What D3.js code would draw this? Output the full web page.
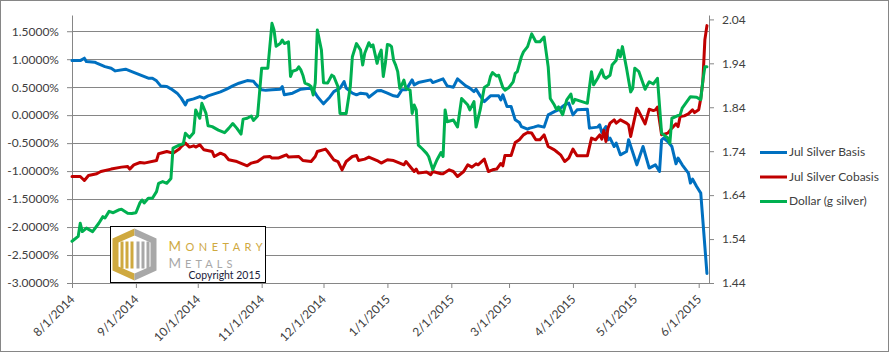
<!DOCTYPE html>
<html>
<head>
<meta charset="utf-8">
<script src="https://cdn.jsdelivr.net/npm/d3@7"></script>
<style>
  html, body { margin:0; padding:0; background:#fff; }
  svg { display:block; }
  text { font-family: Lato, "Open Sans", sans-serif; }
</style>
</head>
<body>
<svg id="chart" width="894" height="353"></svg>
<script>
/* ——— data ———————————————————— */
// basis & cobasis in %, left axis
const basis = [
  ["8/1/14",0.975],["8/5/14",0.975],["8/7/14",1.018],["8/8/14",0.957],["8/12/14",0.946],
  ["8/13/14",0.929],["8/17/14",0.868],["8/20/14",0.839],["8/22/14",0.791],["8/27/14",0.821],
  ["8/30/14",0.779],["9/3/14",0.72],["9/7/14",0.661],["9/9/14",0.661],["9/11/14",0.613],
  ["9/13/14",0.523],["9/16/14",0.511],["9/18/14",0.47],["9/21/14",0.393],["9/23/14",0.304],
  ["9/25/14",0.184],["9/26/14",0.261],["9/29/14",0.291],["10/2/14",0.332],["10/4/14",0.304],
  ["10/6/14",0.345],["10/9/14",0.38],["10/12/14",0.416],["10/15/14",0.464],["10/18/14",0.523],
  ["10/21/14",0.571],["10/25/14",0.618],["10/28/14",0.607],["10/29/14",0.559],["11/1/14",0.452],
  ["11/3/14",0.443],["11/6/14",0.452],["11/10/14",0.464],["11/11/14",0.511],["11/12/14",0.363],
  ["11/16/14",0.393],["11/20/14",0.464],["11/24/14",0.482],["11/26/14",0.452],["11/28/14",0.332],
  ["12/1/14",0.202],["12/4/14",0.321],["12/6/14",0.421],["12/9/14",0.482],["12/11/14",0.6],
  ["12/12/14",0.482],["12/15/14",0.393],["12/17/14",0.363],["12/19/14",0.393],["12/22/14",0.38],
  ["12/23/14",0.321],["12/27/14",0.434],["12/29/14",0.439],["1/1/15",0.393],["1/4/15",0.345],
  ["1/6/15",0.332],["1/8/15",0.452],["1/10/15",0.452],["1/13/15",0.63],["1/14/15",0.541],
  ["1/16/15",0.582],["1/22/15",0.63],["1/23/15",0.582],["1/28/15",0.648],["1/30/15",0.523],
  ["2/2/15",0.5],["2/4/15",0.648],["2/8/15",0.523],["2/10/15",0.482],["2/12/15",0.421],
  ["2/13/15",0.464],["2/15/15",0.345],["2/17/15",0.243],["2/20/15",0.345],["2/24/15",0.345],
  ["2/25/15",0.273],["2/26/15",0.363],["2/28/15",0.154],["3/2/15",0.154],["3/4/15",-0.084],
  ["3/6/15",-0.132],["3/7/15",-0.204],["3/10/15",-0.25],["3/11/15",-0.232],["3/13/15",-0.214],
  ["3/15/15",-0.191],["3/18/15",-0.214],["3/20/15",0.005],["3/23/15",0.064],["3/25/15",0.095],
  ["3/27/15",0.154],["3/28/15",0.184],["3/30/15",0.214],["4/1/15",0.005],["4/3/15",0.095],
  ["4/8/15",0.107],["4/9/15",-0.232],["4/13/15",-0.214],["4/14/15",-0.173],["4/15/15",-0.311],
  ["4/17/15",-0.204],["4/18/15",-0.441],["4/19/15",-0.411],["4/21/15",-0.561],["4/22/15",-0.5],
  ["4/24/15",-0.709],["4/27/15",-0.65],["4/28/15",-0.441],["5/2/15",-0.888],["5/5/15",-0.561],
  ["5/8/15",-0.946],["5/11/15",-0.888],["5/13/15",-1.007],["5/14/15",-0.441],["5/15/15",-0.411],
  ["5/17/15",-0.471],["5/19/15",-0.561],["5/21/15",-0.87],["5/22/15",-0.768],["5/24/15",-0.888],
  ["5/27/15",-1.036],["5/28/15",-1.214],["5/29/15",-1.143],["5/31/15",-1.275],["6/2/15",-1.393],
  ["6/3/15",-1.87],["6/4/15",-2.35],["6/5/15",-2.83]
];

const cobasis = [
  ["8/1/14",-1.096],["8/5/14",-1.096],["8/7/14",-1.168],["8/9/14",-1.079],["8/13/14",-1.048],
  ["8/15/14",-1.007],["8/20/14",-0.964],["8/25/14",-0.929],["8/28/14",-0.918],["8/29/14",-0.964],
  ["8/31/14",-0.888],["9/3/14",-0.846],["9/5/14",-0.857],["9/11/14",-0.811],["9/12/14",-0.691],
  ["9/16/14",-0.65],["9/19/14",-0.679],["9/22/14",-0.607],["9/23/14",-0.561],["9/25/14",-0.5],
  ["9/27/14",-0.571],["9/29/14",-0.548],["9/30/14",-0.571],["10/2/14",-0.53],["10/4/14",-0.62],
  ["10/8/14",-0.65],["10/9/14",-0.739],["10/12/14",-0.679],["10/14/14",-0.709],["10/16/14",-0.798],
  ["10/20/14",-0.829],["10/25/14",-0.905],["10/27/14",-0.857],["10/30/14",-0.829],["11/2/14",-0.75],
  ["11/5/14",-0.739],["11/6/14",-0.768],["11/9/14",-0.768],["11/11/14",-0.739],["11/13/14",-0.709],
  ["11/14/14",-0.75],["11/19/14",-0.739],["11/21/14",-0.811],["11/25/14",-0.829],["11/27/14",-0.739],
  ["11/28/14",-0.65],["12/2/14",-0.607],["12/3/14",-0.65],["12/6/14",-0.798],["12/8/14",-0.829],
  ["12/10/14",-0.977],["12/12/14",-0.829],["12/15/14",-0.739],["12/17/14",-0.721],["12/18/14",-0.811],
  ["12/21/14",-0.786],["12/23/14",-0.75],["12/27/14",-0.811],["12/29/14",-0.857],["1/1/15",-0.798],
  ["1/4/15",-0.811],["1/7/15",-0.857],["1/9/15",-0.888],["1/10/15",-0.829],["1/14/15",-1.007],
  ["1/15/15",-0.964],["1/16/15",-1.036],["1/20/15",-1.018],["1/22/15",-1.066],["1/23/15",-1.007],
  ["1/27/15",-1.048],["1/28/15",-1.048],["1/31/15",-0.977],["2/2/15",-1.007],["2/4/15",-1.096],
  ["2/7/15",-1.007],["2/9/15",-0.888],["2/11/15",-0.929],["2/13/15",-0.87],["2/14/15",-0.888],
  ["2/17/15",-0.786],["2/19/15",-1.007],["2/21/15",-0.977],["2/23/15",-0.964],["2/25/15",-0.864],
  ["2/26/15",-0.905],["2/27/15",-0.721],["3/2/15",-0.721],["3/4/15",-0.489],["3/6/15",-0.441],
  ["3/8/15",-0.352],["3/10/15",-0.311],["3/12/15",-0.321],["3/14/15",-0.441],["3/16/15",-0.441],
  ["3/18/15",-0.352],["3/20/15",-0.561],["3/23/15",-0.62],["3/24/15",-0.65],["3/26/15",-0.709],
  ["3/28/15",-0.829],["3/30/15",-0.768],["4/1/15",-0.607],["4/3/15",-0.727],["4/8/15",-0.727],
  ["4/10/15",-0.411],["4/12/15",-0.441],["4/14/15",-0.352],["4/15/15",-0.429],["4/16/15",-0.275],
  ["4/17/15",-0.471],["4/18/15",-0.232],["4/19/15",-0.143],["4/21/15",-0.084],["4/22/15",-0.143],
  ["4/24/15",-0.084],["4/27/15",-0.143],["4/28/15",-0.173],["4/29/15",-0.382],["5/2/15",0.125],
  ["5/3/15",0.064],["5/6/15",-0.155],["5/8/15",0.107],["5/10/15",0.082],["5/11/15",0.095],
  ["5/12/15",0.143],["5/14/15",-0.352],["5/17/15",-0.321],["5/19/15",-0.232],["5/21/15",-0.155],
  ["5/22/15",-0.204],["5/23/15",-0.025],["5/25/15",-0.013],["5/27/15",0.023],["5/29/15",0.095],
  ["5/30/15",0.046],["6/1/15",0.095],["6/2/15",0.3],["6/3/15",0.6],["6/4/15",1.35],["6/5/15",1.6]
];

// dollar in grams of silver, right axis
const dollar = [
  ["8/1/14",1.535],["8/4/14",1.546],["8/5/14",1.576],["8/6/14",1.557],["8/8/14",1.565],
  ["8/11/14",1.557],["8/14/14",1.576],["8/16/14",1.591],["8/17/14",1.588],["8/19/14",1.603],
  ["8/21/14",1.6],["8/24/14",1.607],["8/25/14",1.608],["8/28/14",1.599],["8/30/14",1.598],
  ["9/1/14",1.6],["9/3/14",1.623],["9/4/14",1.629],["9/5/14",1.622],["9/7/14",1.633],
  ["9/9/14",1.633],["9/11/14",1.648],["9/12/14",1.667],["9/14/14",1.671],["9/16/14",1.667],
  ["9/18/14",1.678],["9/19/14",1.747],["9/22/14",1.754],["9/24/14",1.757],["9/25/14",1.781],
  ["9/27/14",1.771],["9/29/14",1.782],["9/30/14",1.834],["10/2/14",1.815],["10/3/14",1.849],
  ["10/5/14",1.826],["10/6/14",1.798],["10/8/14",1.796],["10/11/14",1.788],["10/14/14",1.782],
  ["10/16/14",1.792],["10/18/14",1.803],["10/20/14",1.792],["10/22/14",1.779],["10/23/14",1.813],
  ["10/25/14",1.815],["10/27/14",1.82],["10/28/14",1.81],["10/30/14",1.82],["11/1/14",1.929],
  ["11/4/14",1.929],["11/6/14",2.031],["11/7/14",2.016],["11/8/14",1.979],["11/10/14",1.985],
  ["11/11/14",1.993],["11/12/14",1.985],["11/14/14",1.989],["11/15/14",1.91],["11/16/14",1.922],
  ["11/18/14",1.925],["11/19/14",1.932],["11/20/14",1.925],["11/21/14",1.913],["11/22/14",1.895],
  ["11/24/14",1.891],["11/25/14",1.887],["11/26/14",1.868],["11/27/14",1.895],["11/28/14",2.016],
  ["11/30/14",1.97],["12/1/14",1.896],["12/3/14",1.895],["12/5/14",1.913],["12/6/14",1.91],
  ["12/8/14",1.887],["12/9/14",1.826],["12/12/14",1.826],["12/14/14",1.887],["12/15/14",1.955],
  ["12/17/14",1.985],["12/19/14",1.97],["12/20/14",1.936],["12/21/14",1.963],["12/23/14",1.987],
  ["12/24/14",1.978],["12/25/14",1.982],["12/27/14",1.94],["12/28/14",1.959],["12/29/14",1.97],
  ["12/30/14",1.91],["12/31/14",1.94],["1/1/15",1.983],["1/2/15",1.982],["1/3/15",1.978],
  ["1/4/15",1.947],["1/5/15",1.936],["1/6/15",1.921],["1/7/15",1.883],["1/8/15",1.891],
  ["1/9/15",1.902],["1/10/15",1.883],["1/12/15",1.879],["1/13/15",1.826],["1/14/15",1.845],
  ["1/15/15",1.834],["1/16/15",1.754],["1/18/15",1.745],["1/20/15",1.735],["1/21/15",1.728],
  ["1/23/15",1.698],["1/25/15",1.72],["1/27/15",1.737],["1/28/15",1.728],["1/29/15",1.834],
  ["1/30/15",1.807],["2/2/15",1.811],["2/4/15",1.795],["2/6/15",1.86],["2/9/15",1.845],
  ["2/10/15",1.834],["2/12/15",1.853],["2/13/15",1.795],["2/15/15",1.834],["2/17/15",1.885],
  ["2/19/15",1.891],["2/20/15",1.91],["2/21/15",1.919],["2/23/15",1.911],["2/24/15",1.913],
  ["2/26/15",1.885],["2/27/15",1.879],["3/1/15",1.885],["3/3/15",1.898],["3/4/15",1.917],
  ["3/5/15",1.921],["3/7/15",1.955],["3/8/15",1.966],["3/10/15",1.978],["3/12/15",2.007],
  ["3/14/15",1.989],["3/16/15",1.989],["3/18/15",2.0],["3/20/15",1.932],["3/21/15",1.86],
  ["3/23/15",1.845],["3/24/15",1.835],["3/25/15",1.841],["3/27/15",1.823],["3/29/15",1.857],
  ["3/31/15",1.87],["4/1/15",1.849],["4/2/15",1.858],["4/8/15",1.849],["4/10/15",1.921],
  ["4/11/15",1.891],["4/13/15",1.906],["4/15/15",1.925],["4/16/15",1.91],["4/17/15",1.906],
  ["4/19/15",1.913],["4/20/15",1.936],["4/22/15",1.947],["4/23/15",1.97],["4/24/15",1.955],
  ["4/25/15",1.978],["4/27/15",1.929],["4/29/15",1.875],["4/30/15",1.883],["5/1/15",1.929],
  ["5/3/15",1.921],["5/6/15",1.881],["5/8/15",1.898],["5/10/15",1.893],["5/12/15",1.906],
  ["5/14/15",1.781],["5/17/15",1.77],["5/18/15",1.758],["5/19/15",1.815],["5/23/15",1.823],
  ["5/24/15",1.838],["5/28/15",1.864],["5/31/15",1.863],["6/2/15",1.857],["6/3/15",1.9],
  ["6/4/15",1.932],["6/5/15",1.932]
];

const seriesNames  = ["Jul Silver Basis", "Jul Silver Cobasis", "Dollar (g silver)"];
const seriesColors = ["#0070C0", "#C00000", "#00B050"];

const leftTicks  = [-3, -2.5, -2, -1.5, -1, -0.5, 0, 0.5, 1, 1.5];
const leftMax    = 1.79;                  // top of the primary axis
const rightTicks = [1.44, 1.54, 1.64, 1.74, 1.84, 1.94, 2.04];
const rightMax   = 2.05;
const monthTicks = ["8/1/2014","9/1/2014","10/1/2014","11/1/2014","12/1/2014",
                    "1/1/2015","2/1/2015","3/1/2015","4/1/2015","5/1/2015","6/1/2015"];
const xEnd       = "6/6/2015";

/* ——— layout ———————————————————————————————————————— */
const svg = d3.select("#chart");
const W = 894, H = 353;
const plot = {left:72, right:709, top:15, bottom:283};
const GRID = "#868686", TXT = "#404040";

const parseShort = d3.timeParse("%m/%d/%y");
const parseLong  = d3.timeParse("%m/%d/%Y");

const x  = d3.scaleTime()
  .domain([parseLong(monthTicks[0]), parseLong(xEnd)])
  .range([plot.left, plot.right]);
const yL = d3.scaleLinear([leftTicks[0], leftMax], [plot.bottom, plot.top]);
const yR = d3.scaleLinear([rightTicks[0], rightMax], [plot.bottom, plot.top]);

// chart border
svg.append("rect")
  .attr("x",0.5).attr("y",0.5).attr("width",W-6).attr("height",H-2)
  .attr("fill","#fff").attr("stroke","#868686");

/* ——— gridlines —————————————————————————————————— */
svg.append("g").selectAll("line").data(leftTicks).enter().append("line")
  .attr("x1", plot.left).attr("x2", plot.right)
  .attr("y1", d => Math.round(yL(d)) + 0.5)
  .attr("y2", d => Math.round(yL(d)) + 0.5)
  .attr("stroke", GRID);

/* ——— axes ——————————————————————————————————————— */
function styleAxis(g){
  g.selectAll("path.domain").attr("stroke", GRID);
  g.selectAll(".tick line").attr("stroke", GRID);
  g.selectAll(".tick text").attr("fill", TXT).attr("font-size", 12)
   .attr("font-family", "Lato, 'Open Sans', sans-serif");
}

svg.append("g")
  .attr("transform", `translate(${plot.left},0)`)
  .call(d3.axisLeft(yL).tickValues(leftTicks)
          .tickFormat(d => d.toFixed(4) + "%")
          .tickSize(5).tickSizeOuter(0).tickPadding(8))
  .call(styleAxis);

svg.append("g")
  .attr("transform", `translate(${plot.right},0)`)
  .call(d3.axisRight(yR).tickValues(rightTicks)
          .tickFormat(d3.format(".2f"))
          .tickSize(5).tickSizeOuter(0).tickPadding(8))
  .call(styleAxis);

const xAxis = svg.append("g")
  .attr("transform", `translate(0,${plot.bottom})`)
  .call(d3.axisBottom(x).tickValues(monthTicks.map(parseLong))
          .tickFormat((d,i) => monthTicks[i])
          .tickSize(5).tickSizeOuter(0).tickPadding(4))
  .call(styleAxis);

xAxis.selectAll(".tick text")
  .attr("text-anchor", "end")
  .attr("dy", null)
  .attr("transform", "translate(3,17) rotate(-45)")
  .attr("y", 0).attr("x", 0);

/* ——— logo box ——————————————————————————————————— */
const logo = svg.append("g").attr("transform", "translate(110.5,226.5)");
logo.append("rect").attr("width",155).attr("height",56)
  .attr("fill","#fff").attr("stroke","#000");

const GOLD = "#CFA93F", GREY = "#A8A8A8";
// hexagon halves
logo.append("path").attr("fill", GOLD)
  .attr("d","M24,2 L2,12 L2,44 L24,54 L24,47 L8,40 L8,16 L24,9 Z");
logo.append("path").attr("fill", GREY)
  .attr("d","M24,2 L46,12 L46,44 L24,54 L24,47 L40,40 L40,16 L24,9 Z");
// pillars
[10, 15, 20].forEach(px =>
  logo.append("rect").attr("x",px).attr("y",15).attr("width",3).attr("height",27).attr("fill",GOLD));
[26, 31, 36].forEach(px =>
  logo.append("rect").attr("x",px).attr("y",15).attr("width",3).attr("height",27).attr("fill",GREY));

logo.append("text")
  .attr("x",58).attr("y",24.5)
  .attr("font-family","'Liberation Serif', 'DejaVu Serif', serif")
  .attr("fill",GOLD).attr("font-size",13.5)
  .attr("textLength",94).attr("lengthAdjust","spacing")
  .call(t => { t.append("tspan").text("M");
               t.append("tspan").attr("font-size",11).text("ONETARY"); });

logo.append("text")
  .attr("x",58).attr("y",41)
  .attr("font-family","'Liberation Serif', 'DejaVu Serif', serif")
  .attr("fill",GREY).attr("font-size",13.5)
  .attr("textLength",64).attr("lengthAdjust","spacing")
  .call(t => { t.append("tspan").text("M");
               t.append("tspan").attr("font-size",11).text("ETALS"); });

logo.append("text")
  .attr("x",78).attr("y",52.5)
  .attr("fill","#1b1b3a").attr("font-size",11)
  .attr("textLength",72).attr("lengthAdjust","spacingAndGlyphs")
  .text("Copyright 2015");

/* ——— lines ——————————————————————————————————————— */
const toPts = arr => arr.map(([d,v]) => ({date: parseShort(d), value: v}));

const lineL = d3.line().x(d => x(d.date)).y(d => yL(d.value));
const lineR = d3.line().x(d => x(d.date)).y(d => yR(d.value));

const series = [
  {pts: toPts(basis),   gen: lineL},
  {pts: toPts(cobasis), gen: lineL},
  {pts: toPts(dollar),  gen: lineR}
];

svg.append("g").selectAll("path").data(series).enter().append("path")
  .attr("fill","none")
  .attr("stroke", (d,i) => seriesColors[i])
  .attr("stroke-width", 3)
  .attr("stroke-linejoin","round")
  .attr("stroke-linecap","round")
  .attr("d", d => d.gen(d.pts));

/* ——— legend ——————————————————————————————————————— */
const leg = svg.append("g").attr("transform","translate(760,152)");
const legRow = leg.selectAll("g").data(seriesNames).enter().append("g")
  .attr("transform", (d,i) => `translate(0,${i*24.5})`);
legRow.append("line").attr("x1",0).attr("x2",27).attr("y1",0.5).attr("y2",0.5)
  .attr("stroke", (d,i) => seriesColors[i]).attr("stroke-width",3);
legRow.append("text").attr("x",29).attr("y",0).attr("dy","0.35em")
  .attr("fill",TXT).attr("font-size",12).text(d => d);
</script>
</body>
</html>
